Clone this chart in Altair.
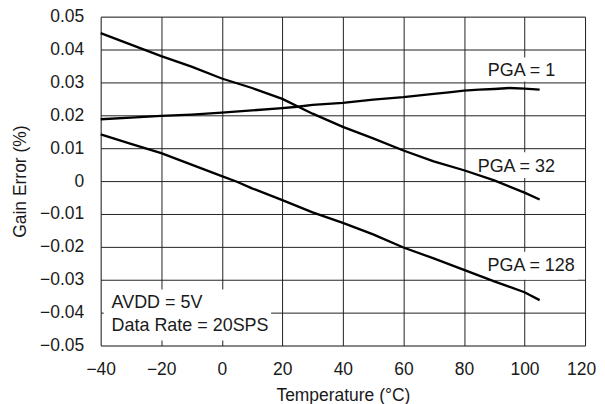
import altair as alt
import pandas as pd

# --- data ---
t_pga1 = [-40, -30, -20, -10, 0, 10, 20, 25, 30, 40, 50, 60, 70, 75, 80, 85, 90, 95, 100, 105]
v_pga1 = [0.0188, 0.0193, 0.0198, 0.0202, 0.0208, 0.0215, 0.0222, 0.0226, 0.0232, 0.0238,
          0.0248, 0.0255, 0.0265, 0.0270, 0.0275, 0.0278, 0.0280, 0.0283, 0.0281, 0.0278]

t_pga32 = [-40, -30, -20, -10, 0, 10, 20, 30, 40, 50, 60, 70, 80, 90, 100, 105]
v_pga32 = [0.0450, 0.0415, 0.0380, 0.0348, 0.0312, 0.0283, 0.0250, 0.0205, 0.0165, 0.0130,
           0.0093, 0.0060, 0.0033, 0.0002, -0.0035, -0.0056]

t_pga128 = [-40, -30, -20, -10, 0, 5, 10, 20, 30, 40, 50, 60, 70, 80, 90, 100, 105]
v_pga128 = [0.0142, 0.0113, 0.0085, 0.0050, 0.0015, -0.0002, -0.0022, -0.0058, -0.0095, -0.0127,
            -0.0162, -0.0202, -0.0235, -0.0270, -0.0305, -0.0338, -0.0362]

series_names = ["PGA = 1", "PGA = 32", "PGA = 128"]

label_text = ["PGA = 1", "PGA = 32", "PGA = 128"]
label_t = [99.0, 97.3, 102.2]
label_v = [0.0336, 0.0042, -0.0258]

note_text = ["AVDD = 5V", "Data Rate = 20SPS"]
note_t = [-36.4, -36.4]
note_v = [-0.0370, -0.0442]

box_t1 = [86.4, 83.1, 86.1, -39.0]
box_t2 = [111.1, 111.8, 117.7, 16.3]
box_v1 = [0.0376, 0.0088, -0.0215, -0.0330]
box_v2 = [0.0303, 0.0009, -0.0300, -0.0485]

x_ticks = [-40, -20, 0, 20, 40, 60, 80, 100, 120]
y_ticks = [-0.05, -0.04, -0.03, -0.02, -0.01, 0, 0.01, 0.02, 0.03, 0.04, 0.05]

# --- tables ---
rows = []
for name, ts, vs in zip(series_names, [t_pga1, t_pga32, t_pga128], [v_pga1, v_pga32, v_pga128]):
    for i, (t, v) in enumerate(zip(ts, vs)):
        rows.append({"series": name, "order": i, "t": t, "v": v})
lines_df = pd.DataFrame(rows)
labels_df = pd.DataFrame({"text": label_text, "t": label_t, "v": label_v})
notes_df = pd.DataFrame({"text": note_text, "t": note_t, "v": note_v})
boxes_df = pd.DataFrame({"t1": box_t1, "t2": box_t2, "v1": box_v1, "v2": box_v2})

FONT = "Liberation Sans"
INK = "#1a1a1a"

x_scale = alt.Scale(domain=[-40, 120], nice=False, zero=False)
y_scale = alt.Scale(domain=[-0.05, 0.05], nice=False, zero=False)

x_axis = alt.Axis(values=x_ticks, tickCount=20, title="Temperature (°C)", grid=True, domain=False,
                  ticks=False, labelPadding=15, titlePadding=9, labelFontSize=17.5, titleFontSize=17.5,
                  labelFont=FONT, titleFont=FONT, titleFontWeight="normal",
                  labelColor=INK, titleColor=INK, labelOverlap=False, labelBound=False,
                  gridColor="#222", gridWidth=1, labelFlush=False,
                  labelOffset={"condition": {"test": "datum.value == 120", "value": -4}, "value": 0})
y_axis = alt.Axis(values=y_ticks, tickCount=20, title="Gain Error (%)", grid=True, domain=False,
                  ticks=False, labelPadding=17, titlePadding=10, labelFontSize=17.5, titleFontSize=17.5,
                  labelFont=FONT, titleFont=FONT, titleFontWeight="normal",
                  labelColor=INK, titleColor=INK, labelOverlap=False, labelBound=False,
                  gridColor="#222", gridWidth=1, labelFlush=False,
                  labelExpr="datum.value == 0 ? '0' : format(datum.value, '.2f')")

boxes = alt.Chart(boxes_df).mark_rect(color="white").encode(
    x=alt.X("t1:Q", scale=x_scale, axis=x_axis),
    x2="t2:Q",
    y=alt.Y("v1:Q", scale=y_scale, axis=y_axis),
    y2="v2:Q",
)

lines = alt.Chart(lines_df).mark_line(color="black", strokeWidth=2.3).encode(
    x=alt.X("t:Q", scale=x_scale),
    y=alt.Y("v:Q", scale=y_scale),
    detail="series:N",
    order="order:Q",
)

labels = alt.Chart(labels_df).mark_text(font=FONT, fontSize=18, color=INK,
                                        align="center", baseline="middle").encode(
    x=alt.X("t:Q", scale=x_scale),
    y=alt.Y("v:Q", scale=y_scale),
    text="text:N",
)

notes = alt.Chart(notes_df).mark_text(font=FONT, fontSize=18, color=INK,
                                      align="left", baseline="middle").encode(
    x=alt.X("t:Q", scale=x_scale),
    y=alt.Y("v:Q", scale=y_scale),
    text="text:N",
)

chart = alt.layer(boxes, lines, labels, notes).properties(
    width=486, height=330,
    autosize=alt.AutoSizeParams(type="none"),
    padding={"left": 93, "top": 8, "right": 12, "bottom": 58},
).configure_view(
    stroke="black", strokeWidth=2.5
).configure(background="white")

chart.save("out.html", embed_options={"renderer": "svg", "actions": False})
